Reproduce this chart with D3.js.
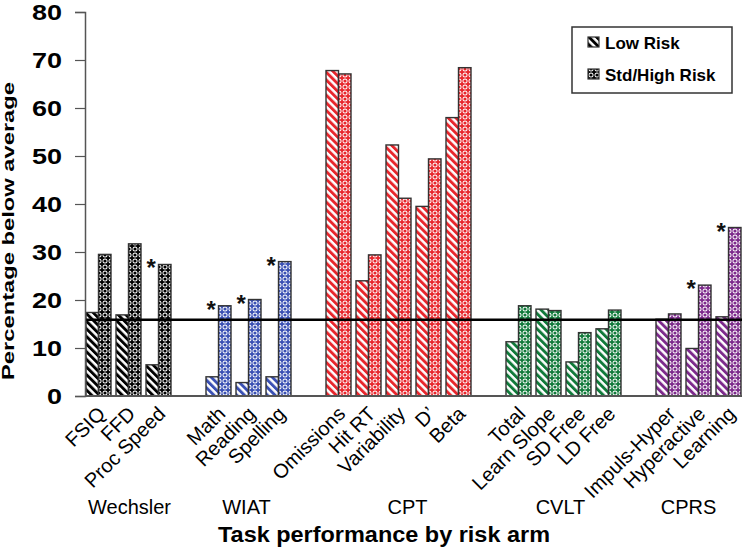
<!DOCTYPE html>
<html>
<head>
<meta charset="utf-8">
<script src="https://cdn.jsdelivr.net/npm/d3@7/dist/d3.min.js"></script>
<style>
  html, body { margin: 0; padding: 0; background: #fff; }
  svg { display: block; font-family: "Liberation Sans", Arial, sans-serif; }
</style>
</head>
<body>
<svg id="chart" width="742" height="548"></svg>
<script>
// ---------------- DATA ----------------
const groups = ["Wechsler", "WIAT", "CPT", "CVLT", "CPRS"];
const categories = ["FSIQ", "FFD", "Proc Speed",
  "Math", "Reading", "Spelling",
  "Omissions", "Hit RT", "Variability", "D\u2019", "Beta",
  "Total", "Learn Slope", "SD Free", "LD Free",
  "Impuls-Hyper", "Hyperactive", "Learning"];
const categoryGroup = ["Wechsler", "Wechsler", "Wechsler",
  "WIAT", "WIAT", "WIAT",
  "CPT", "CPT", "CPT", "CPT", "CPT",
  "CVLT", "CVLT", "CVLT", "CVLT",
  "CPRS", "CPRS", "CPRS"];
const lowRisk  = [17.4, 16.9, 6.5,  4.0, 2.8, 4.0,  67.8, 24.0, 52.3, 39.5, 58.0,  11.3, 18.1, 7.1, 14.0,  16.0, 9.9, 16.5];
const highRisk = [29.5, 31.7, 27.4, 18.8, 20.1, 28.0, 67.1, 29.4, 41.2, 49.4, 68.4, 18.8, 17.8, 13.2, 17.9, 17.1, 23.1, 35.1];
const significant = [false, false, true, true, true, true, false, false, false, false, false, false, false, false, false, false, true, true];
const seriesNames = ["Low Risk", "Std/High Risk"];
const yTicks = [0, 10, 20, 30, 40, 50, 60, 70, 80];
const referenceValue = 15.87;
const groupColors = ["#000000", "#3a50b4", "#e8262c", "#107a3a", "#7d2a8c"];

// ---------------- LAYOUT ----------------
const svg = d3.select("#chart");
const plotLeft = 85, plotRight = 745, plotTop = 12, plotBottom = 396;

// slots: categories plus a spacer between groups
const slots = [];
groups.forEach((g, gi) => {
  categories.forEach((c, ci) => { if (categoryGroup[ci] === g) slots.push(c); });
  if (gi < groups.length - 1) slots.push("__gap" + gi);
});

const x = d3.scaleBand().domain(slots).range([plotLeft, plotRight]).paddingInner(0).paddingOuter(0);
const pairWidth = x.bandwidth() * 25 / 30;
const xSub = d3.scaleBand().domain(["low", "high"]).range([0, pairWidth]);
const pairStart = c => x(c) + 1;
const pairCenter = c => pairStart(c) + pairWidth / 2;

const y = d3.scaleLinear().domain([0, 80]).range([plotBottom, plotTop]);

// ---------------- PATTERNS ----------------
const defs = svg.append("defs");
function makePatterns(key, color) {
  const s = defs.append("pattern").attr("id", "stripe-" + key)
    .attr("patternUnits", "userSpaceOnUse").attr("width", 5.4).attr("height", 5.4)
    .attr("patternTransform", "rotate(-45)");
  s.append("rect").attr("width", 5.4).attr("height", 5.4).attr("fill", "#fff");
  s.append("rect").attr("width", 2.9).attr("height", 5.4).attr("fill", color);

  const c = defs.append("pattern").attr("id", "circ-" + key)
    .attr("patternUnits", "userSpaceOnUse").attr("width", 6).attr("height", 6)
    .attr("x", 0).attr("y", 0);
  c.append("rect").attr("width", 6).attr("height", 6).attr("fill", color);
  c.append("circle").attr("cx", 3).attr("cy", 3).attr("r", 2.5).attr("fill", "#fff");
  c.append("circle").attr("cx", 3).attr("cy", 3).attr("r", 1.6).attr("fill", color);
}
groups.forEach((g, i) => makePatterns(i, groupColors[i]));

// ---------------- BARS ----------------
const rows = categories.map((c, i) => ({
  cat: c, gi: groups.indexOf(categoryGroup[i]), low: lowRisk[i], high: highRisk[i], sig: significant[i]
}));

const barG = svg.append("g");
rows.forEach(d => {
  barG.append("rect")
    .attr("x", pairStart(d.cat) + xSub("low"))
    .attr("y", y(d.low))
    .attr("width", xSub.bandwidth())
    .attr("height", y(0) - y(d.low))
    .attr("fill", `url(#stripe-${d.gi})`)
    .attr("stroke", "#333").attr("stroke-width", 1.4);
  barG.append("rect")
    .attr("x", pairStart(d.cat) + xSub("high"))
    .attr("y", y(d.high))
    .attr("width", xSub.bandwidth())
    .attr("height", y(0) - y(d.high))
    .attr("fill", `url(#circ-${d.gi})`)
    .attr("stroke", "#333").attr("stroke-width", 1.4);
});

// significance asterisks
svg.append("g").selectAll("text").data(rows.filter(d => d.sig)).join("text")
  .attr("x", d => pairStart(d.cat) + xSub("low") + xSub.bandwidth() / 2 - 1)
  .attr("y", d => y(d.high) + 12)
  .attr("text-anchor", "middle")
  .attr("font-size", 24).attr("font-weight", "bold").attr("fill", "#111")
  .text("*");

// reference line
svg.append("line")
  .attr("x1", plotLeft).attr("x2", 742)
  .attr("y1", y(referenceValue)).attr("y2", y(referenceValue))
  .attr("stroke", "#000").attr("stroke-width", 2.6);

// ---------------- AXES ----------------
const yAxis = svg.append("g").attr("transform", `translate(${plotLeft},0)`)
  .call(d3.axisLeft(y).tickValues(yTicks).tickSize(10).tickPadding(13));
yAxis.select(".domain").attr("stroke", "#555").attr("stroke-width", 1.5);
yAxis.selectAll(".tick line").attr("stroke", "#555").attr("stroke-width", 1.2);
yAxis.selectAll(".tick text")
  .attr("font-family", "'Liberation Sans', Arial, sans-serif")
  .attr("font-size", 22).attr("font-weight", "bold").attr("fill", "#000")
  .attr("textLength", d => String(d).length * 15)
  .attr("lengthAdjust", "spacingAndGlyphs");

// x axis baseline
svg.append("line")
  .attr("x1", plotLeft).attr("x2", 742)
  .attr("y1", y(0)).attr("y2", y(0))
  .attr("stroke", "#555").attr("stroke-width", 2);

// category tick labels (rotated)
svg.append("g").selectAll("text").data(categories).join("text")
  .attr("transform", c => `translate(${pairCenter(c) - 2},${plotBottom + 9}) rotate(-45)`)
  .attr("text-anchor", "end")
  .attr("dy", "0.71em")
  .attr("font-size", 20).attr("fill", "#000")
  .text(c => c);

// group labels
const groupShift = [1, -2, 9, -3, -10];
svg.append("g").selectAll("text").data(groups).join("text")
  .attr("x", (g, i) => {
    const cats = categories.filter((c, ci) => categoryGroup[ci] === g);
    return d3.mean(cats, pairCenter) + groupShift[i];
  })
  .attr("y", 514)
  .attr("text-anchor", "middle")
  .attr("font-size", 20).attr("fill", "#000")
  .text(g => g);

// axis titles
svg.append("text")
  .attr("x", 384).attr("y", 542)
  .attr("text-anchor", "middle")
  .attr("font-size", 22).attr("font-weight", "bold")
  .attr("textLength", 332).attr("lengthAdjust", "spacingAndGlyphs")
  .text("Task performance by risk arm");

svg.append("text")
  .attr("transform", "translate(14,231) rotate(-90)")
  .attr("text-anchor", "middle")
  .attr("font-size", 16.5).attr("font-weight", "bold")
  .attr("textLength", 298).attr("lengthAdjust", "spacingAndGlyphs")
  .text("Percentage below average");

// ---------------- LEGEND ----------------
const legend = svg.append("g");
legend.append("rect")
  .attr("x", 572).attr("y", 27).attr("width", 160).attr("height", 66)
  .attr("fill", "#fff").attr("stroke", "#333").attr("stroke-width", 1.5);
const legendFills = ["url(#stripe-0)", "url(#circ-0)"];
seriesNames.forEach((name, i) => {
  const ly = 43 + i * 32;
  legend.append("rect")
    .attr("x", 588).attr("y", ly - 6).attr("width", 11).attr("height", 10)
    .attr("fill", legendFills[i]).attr("stroke", "#333").attr("stroke-width", 1.2);
  legend.append("text")
    .attr("x", 605).attr("y", ly + 5.5)
    .attr("font-size", 17).attr("font-weight", "bold").attr("fill", "#000")
    .text(name);
});
</script>
</body>
</html>
